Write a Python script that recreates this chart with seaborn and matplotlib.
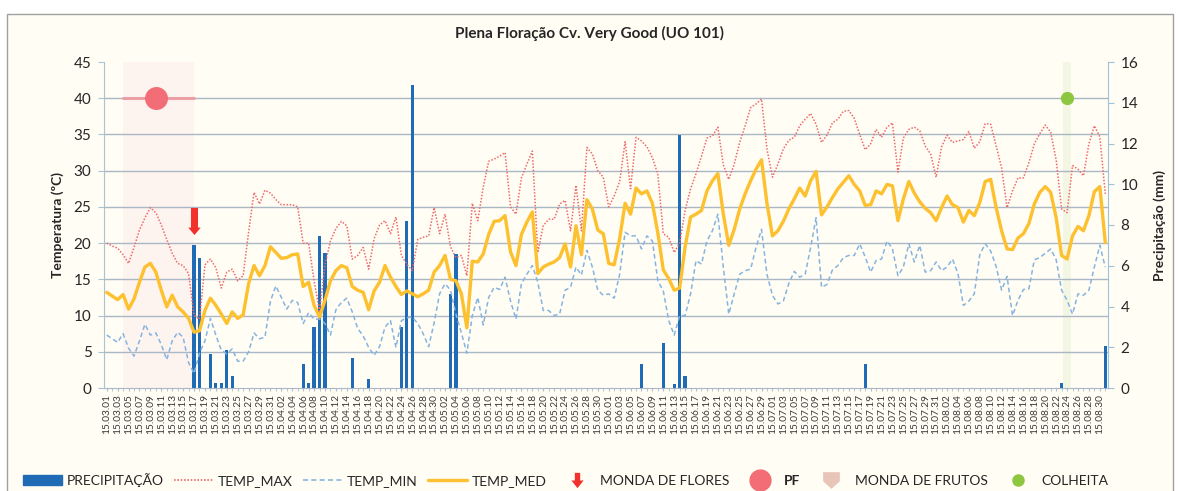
import numpy as np
import pandas as pd
import matplotlib
matplotlib.use('Agg')
from matplotlib import pyplot as plt
from matplotlib.patches import Patch, Rectangle
from matplotlib.lines import Line2D
from matplotlib.ticker import FixedLocator, MultipleLocator
import seaborn as sns

# dias de 15.03.01 a 15.08.31 (um valor por dia)
datas = pd.date_range('2015-03-01', '2015-08-31', freq='D').strftime('%y.%m.%d').tolist()

temp_max = [
    20.0, 19.6, 19.3, 18.4, 17.2, 19.4, 21.8, 23.5, 24.9, 24.2,
    22.5, 20.5, 18.6, 17.2, 16.9, 15.8, 10.0, 9.5, 17.0, 17.8,
    16.6, 13.8, 16.0, 16.4, 14.8, 15.5, 21.5, 27.0, 25.4, 27.3,
    26.9, 26.0, 25.3, 25.3, 25.3, 25.0, 20.0, 20.0, 14.8, 10.6,
    17.0, 20.3, 22.0, 23.0, 22.4, 17.8, 18.3, 19.4, 16.4, 20.6,
    22.5, 23.1, 21.3, 23.6, 18.3, 17.1, 16.2, 20.5, 20.8, 21.0,
    24.9, 21.3, 24.0, 19.5, 18.0, 18.3, 15.5, 25.5, 23.1, 27.7,
    31.3, 31.6, 32.0, 32.5, 25.0, 24.0, 29.0, 30.9, 32.7, 18.7,
    22.4, 23.3, 23.3, 25.4, 25.9, 21.7, 28.0, 21.7, 33.2, 32.3,
    30.0, 29.1, 25.0, 26.5, 28.5, 34.0, 27.5, 34.6, 34.1, 33.3,
    31.8, 29.5, 21.3, 20.8, 18.7, 20.0, 24.5, 27.5, 29.6, 32.0,
    34.5, 34.8, 36.0, 30.8, 28.8, 30.9, 33.9, 36.2, 38.7, 39.2,
    39.9, 33.0, 29.1, 30.9, 33.0, 34.2, 34.6, 36.2, 37.1, 37.9,
    36.4, 33.9, 34.9, 36.6, 37.1, 38.2, 38.3, 37.2, 35.0, 32.9,
    33.7, 35.7, 34.6, 36.0, 36.6, 29.8, 34.5, 35.7, 36.0, 35.5,
    33.4, 32.3, 29.1, 33.3, 34.9, 33.9, 34.1, 34.3, 35.4, 33.1,
    34.0, 36.5, 36.4, 33.4, 30.4, 24.9, 27.2, 29.0, 29.0, 31.1,
    33.7, 35.1, 36.3, 35.3, 31.5, 24.7, 24.2, 30.7, 30.2, 29.3,
    33.7, 36.2, 34.7, 26.8,
]

temp_med = [
    13.2, 12.7, 12.2, 12.9, 10.9, 12.3, 14.6, 16.7, 17.2, 16.0,
    13.5, 11.2, 12.8, 11.2, 10.5, 9.6, 7.7, 7.9, 10.7, 12.4,
    11.4, 10.2, 8.9, 10.5, 9.6, 10.1, 14.4, 16.9, 15.5, 16.9,
    19.5, 18.7, 17.9, 18.0, 18.4, 18.5, 14.0, 14.6, 11.4, 9.8,
    12.1, 14.8, 16.2, 16.9, 16.6, 14.0, 13.5, 13.2, 10.8, 13.4,
    14.6, 16.9, 15.3, 14.0, 12.9, 13.4, 13.0, 12.6, 13.0, 13.5,
    16.0, 16.9, 18.3, 15.0, 14.8, 13.0, 8.3, 17.5, 17.4, 18.5,
    21.2, 23.0, 23.1, 23.8, 18.8, 16.9, 21.2, 22.9, 24.3, 15.8,
    16.7, 17.1, 17.4, 18.0, 19.9, 16.7, 22.4, 18.4, 26.0, 24.7,
    21.8, 21.3, 17.2, 17.0, 20.6, 25.5, 24.0, 27.6, 26.8, 27.2,
    25.5, 21.4, 16.3, 15.1, 13.5, 13.8, 19.5, 23.6, 24.0, 24.5,
    27.2, 28.6, 29.6, 24.0, 19.7, 21.9, 24.7, 26.8, 28.6, 30.2,
    31.5, 25.5, 21.0, 21.7, 23.0, 24.7, 26.1, 27.6, 26.5, 28.6,
    29.9, 23.9, 25.0, 26.3, 27.5, 28.4, 29.3, 28.1, 27.2, 25.2,
    25.3, 27.2, 26.8, 28.1, 27.9, 23.1, 26.1, 28.5, 26.9, 25.7,
    24.8, 24.2, 23.1, 24.9, 26.5, 25.3, 24.9, 22.9, 24.5, 23.8,
    25.6, 28.5, 28.8, 24.9, 21.7, 19.2, 19.1, 20.7, 21.3, 22.7,
    25.4, 27.0, 27.8, 27.0, 23.5, 18.3, 17.8, 21.0, 22.3, 21.7,
    23.8, 27.1, 27.8, 20.1,
]

temp_min = [
    7.3, 6.8, 6.3, 7.5, 5.5, 4.4, 6.5, 8.8, 7.3, 7.6,
    6.0, 3.9, 6.5, 7.7, 7.0, 3.5, 2.0, 4.8, 6.5, 9.6,
    7.3, 5.2, 4.7, 5.4, 3.7, 3.7, 5.0, 7.6, 6.8, 7.0,
    12.0, 14.1, 12.5, 10.9, 12.1, 11.8, 8.9, 10.4, 9.5, 9.5,
    8.9, 7.3, 10.8, 11.8, 12.4, 10.5, 8.2, 7.2, 5.6, 4.5,
    5.7, 8.4, 9.3, 5.6, 9.3, 9.7, 9.8, 8.9, 7.5, 5.7,
    9.0, 13.0, 14.4, 13.5, 10.2, 7.6, 4.8, 10.0, 12.5, 8.7,
    12.5, 13.9, 13.6, 15.3, 12.0, 9.5, 14.4, 15.7, 16.9, 14.6,
    10.7, 10.7, 10.0, 10.2, 13.5, 13.9, 16.7, 15.6, 19.0, 16.7,
    13.5, 12.8, 13.0, 12.4, 15.7, 21.5, 21.0, 21.0, 19.2, 21.0,
    20.3, 14.8, 13.4, 9.3, 7.3, 10.0, 10.0, 13.0, 17.6, 17.1,
    20.3, 21.7, 24.0, 16.7, 10.2, 13.0, 15.7, 16.2, 16.4, 19.4,
    21.9, 15.7, 12.8, 11.6, 12.0, 14.4, 16.1, 15.3, 15.7, 19.4,
    23.5, 13.9, 14.3, 16.3, 16.9, 18.0, 18.3, 18.3, 19.9, 18.1,
    16.0, 17.6, 17.8, 20.3, 19.2, 15.5, 16.7, 19.9, 17.4, 19.7,
    16.0, 16.2, 17.4, 16.2, 16.7, 17.8, 15.8, 11.4, 12.0, 13.0,
    18.4, 19.9, 18.9, 16.8, 13.5, 15.4, 10.0, 12.1, 13.6, 13.7,
    17.7, 18.0, 18.6, 19.2, 17.7, 13.5, 12.1, 10.2, 13.0, 12.8,
    13.5, 16.7, 19.7, 16.7,
]

# dias com chuva (mm)
chuva_datas = ['15.03.17', '15.03.18', '15.03.20', '15.03.21', '15.03.22', '15.03.23', '15.03.24',
               '15.04.06', '15.04.07', '15.04.08', '15.04.09', '15.04.10', '15.04.15', '15.04.18',
               '15.04.24', '15.04.25', '15.04.26', '15.05.03', '15.05.04', '15.06.07', '15.06.11',
               '15.06.13', '15.06.14', '15.06.15', '15.07.18', '15.08.23', '15.08.31']
chuva_mm = [7.0, 6.4, 1.65, 0.25, 0.25, 1.85, 0.6,
            1.2, 0.25, 3.0, 7.45, 6.65, 1.45, 0.45,
            3.0, 8.2, 14.85, 4.6, 6.6, 1.2, 2.2,
            0.2, 12.4, 0.6, 1.2, 0.25, 2.05]

# eventos
pf_inicio, pf_data, pf_fim = '15.03.04', '15.03.10', '15.03.17'
monda_flores = '15.03.17'
colheita = '15.08.24'
nivel_eventos = 40       # ºC, altura dos marcadores PF / colheita
nivel_seta = 23.1

df = pd.DataFrame({'data': datas, 'dia': np.arange(len(datas)),
                   'TEMP_MAX': temp_max, 'TEMP_MED': temp_med, 'TEMP_MIN': temp_min})
df['PRECIPITACAO'] = df['data'].map(dict(zip(chuva_datas, chuva_mm))).fillna(0.0)
pos = dict(zip(df['data'], df['dia']))

cor_fundo = '#fffdf4'
cor_chuva = '#1f6bb5'
cor_max = '#ee6a6a'
cor_min = '#86b4e0'
cor_med = '#fdc02f'
cor_seta = '#f2302c'
cor_pf = '#f26d75'
cor_frutos = '#e9c4b8'
cor_colheita = '#8dc63f'
cor_grelha = '#aab8c4'

sns.set_style('white')
plt.rcParams['font.family'] = ['Lato', 'DejaVu Sans']

fig = plt.figure(figsize=(11.79, 4.91), dpi=100, facecolor='white')
fig.patches.append(Rectangle((7 / 1179, -0.05), 1166 / 1179, 1 - 14 / 491 + 0.05,
                             transform=fig.transFigure, facecolor=cor_fundo,
                             edgecolor='#a0a0a0', lw=1, zorder=-1))

ax = fig.add_axes([104 / 1179, 1 - 388 / 491, 1004 / 1179, 326 / 491])
ax.set_facecolor(cor_fundo)
ax_t = ax.twinx()

# periodos sombreados
ax.axvspan(pos[pf_inicio], pos[pf_fim], color='#fdf3ef', lw=0, zorder=0)
ax.axvspan(pos[colheita] - 0.75, pos[colheita] + 0.75, color='#f4f6e4', lw=0, zorder=0)

# precipitacao
sns.barplot(data=df, x='dia', y='PRECIPITACAO', native_scale=True, color=cor_chuva,
            saturation=1, width=0.6, errorbar=None, linewidth=0, ax=ax, zorder=2)

# temperaturas
sns.lineplot(data=df, x='dia', y='TEMP_MAX', ax=ax_t, color=cor_max, lw=1.1, linestyle=(0, (1, 1.1)))
sns.lineplot(data=df, x='dia', y='TEMP_MIN', ax=ax_t, color=cor_min, lw=1.1, linestyle=(0, (3, 2)))
sns.lineplot(data=df, x='dia', y='TEMP_MED', ax=ax_t, color=cor_med, lw=2.4)

# marcadores de eventos
ax_t.plot([pos[pf_inicio], pos[pf_fim]], [nivel_eventos] * 2, color='#f09aa0', lw=2.2, alpha=0.9)
ax_t.plot([pos[pf_data]], [nivel_eventos], ls='none', marker='o', ms=15.5, color=cor_pf)
ax_t.plot([pos[colheita]], [nivel_eventos], ls='none', marker='o', ms=8.5, color=cor_colheita)
seta = [(-0.26, 1), (0.26, 1), (0.26, -0.45), (0.46, -0.45), (0, -1), (-0.46, -0.45), (-0.26, -0.45)]
ax_t.plot([pos[monda_flores]], [nivel_seta], ls='none', marker=seta, ms=19.5, color=cor_seta, mew=0)

# eixos
ax.set_xlim(-0.5, len(datas) - 0.5)
ax.set_ylim(0, 16)
ax_t.set_ylim(0, 45)

grelha_temp = np.arange(0, 46, 5)
ax.yaxis.set_minor_locator(FixedLocator(grelha_temp * 16 / 45))
ax.yaxis.set_major_locator(MultipleLocator(2))
ax.grid(which='minor', axis='y', color=cor_grelha, lw=1)
ax.grid(which='major', visible=False)
ax.set_axisbelow(True)

ax.yaxis.tick_right()
ax.yaxis.set_label_position('right')
ax_t.yaxis.tick_left()
ax_t.yaxis.set_label_position('left')
ax_t.set_yticks(grelha_temp)

ax.set_xticks(df['dia'][::2])
ax.set_xticklabels(df['data'][::2], rotation=90, fontsize=7.3, color='#3a3a3a')
ax.xaxis.set_minor_locator(MultipleLocator(1))
ax.tick_params(axis='x', which='both', bottom=True, length=2.5, color='#b0bcc8', pad=2)
ax.tick_params(axis='y', which='major', right=True, length=4, color='#9cc3da', labelsize=11, pad=5)
ax.tick_params(axis='y', which='minor', length=0)
ax_t.tick_params(axis='y', left=True, length=4, color='#a8c4d4', labelsize=11, pad=5)

ax.set_xlabel('')
ax.set_ylabel('')
ax_t.set_xlabel('')
ax_t.set_ylabel('')

ax.spines['top'].set_visible(False)
ax.spines['left'].set_color('#a8c4d4')
ax.spines['right'].set_color('#9cc3da')
ax.spines['bottom'].set_color('#a8b8c8')
for sp in ax_t.spines.values():
    sp.set_visible(False)

fig.text(0.5, 1 - 33 / 491, 'Plena Floração Cv. Very Good (UO 101)', ha='center', va='center',
         fontsize=11, fontweight='bold')
fig.text(58 / 1179, 1 - 225 / 491, 'Temperatura (ºC)', rotation=90, ha='center', va='center',
         fontsize=10, fontweight='bold')
fig.text(1160 / 1179, 1 - 225 / 491, 'Precipitação (mm)', rotation=90, ha='center', va='center',
         fontsize=10, fontweight='bold')

# legenda
seta_leg = [(-0.35, 1), (0.35, 1), (0.35, 0), (0.8, 0), (0, -1), (-0.8, 0), (-0.35, 0)]
escudo = [(-1, 1), (1, 1), (1, -0.1), (0, -1), (-1, -0.1)]
handles = [
    Patch(color=cor_chuva),
    Line2D([], [], color=cor_max, lw=1.2, ls=(0, (1, 1))),
    Line2D([], [], color=cor_min, lw=1.2, ls=(0, (3, 2))),
    Line2D([], [], color=cor_med, lw=2.4),
    Line2D([], [], ls='none', marker=seta_leg, ms=11, color=cor_seta, mew=0),
    Line2D([], [], ls='none', marker='o', ms=15, color=cor_pf),
    Line2D([], [], ls='none', marker=escudo, ms=12, color=cor_frutos, mew=0),
    Line2D([], [], ls='none', marker='o', ms=8, color=cor_colheita),
]
labels = ['PRECIPITAÇÃO', 'TEMP_MAX', 'TEMP_MIN', 'TEMP_MED', 'MONDA DE FLORES', 'PF',
          'MONDA DE FRUTOS', 'COLHEITA']
leg = fig.legend(handles, labels, loc='center', bbox_to_anchor=(0.48, 0.022), ncol=8,
                 frameon=False, fontsize=10, handlelength=2.8, handletextpad=0.3,
                 columnspacing=0.8)
leg.get_texts()[5].set_fontweight('bold')

plt.savefig('out.png', dpi=100)
